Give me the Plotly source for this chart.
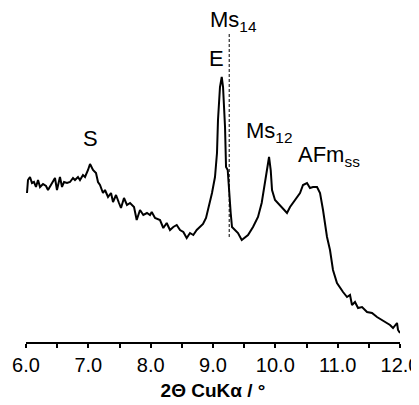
import plotly.graph_objects as go

two_theta = [6.016, 6.032, 6.064, 6.096, 6.128, 6.160, 6.193, 6.225, 6.273, 6.321, 6.353, 6.417, 6.465, 6.497,
             6.545, 6.578, 6.610, 6.658, 6.706, 6.754, 6.786, 6.834, 6.866, 6.914, 6.947, 6.995, 7.027, 7.075,
             7.123, 7.155, 7.187, 7.235, 7.267, 7.316, 7.364, 7.396, 7.444, 7.492, 7.524, 7.572, 7.620, 7.669,
             7.733, 7.776, 7.829, 7.882, 7.941, 7.989, 8.017, 8.070, 8.150, 8.203, 8.257, 8.310, 8.363, 8.418,
             8.471, 8.524, 8.578, 8.631, 8.684, 8.739, 8.792, 8.840, 8.888, 8.920, 8.952, 8.984, 9.032, 9.064,
             9.080, 9.112, 9.140, 9.161, 9.193, 9.209, 9.236, 9.257, 9.284, 9.305, 9.353, 9.401, 9.461, 9.514,
             9.562, 9.642, 9.722, 9.781, 9.834, 9.867, 9.899, 9.926, 9.947, 9.995, 10.043, 10.123, 10.187,
             10.236, 10.284, 10.348, 10.396, 10.444, 10.508, 10.556, 10.604, 10.669, 10.717, 10.765, 10.829,
             10.877, 10.925, 10.989, 11.038, 11.086, 11.150, 11.198, 11.230, 11.278, 11.327, 11.391, 11.471,
             11.551, 11.631, 11.712, 11.792, 11.840, 11.888, 11.952, 11.968, 12.000]
intensity = [149, 162, 165, 159, 160, 155, 162, 155, 158, 156, 152, 159, 164, 152,
             165, 155, 160, 159, 160, 164, 162, 165, 162, 167, 165, 172, 178, 172,
             169, 160, 157, 149, 152, 145, 149, 140, 147, 139, 134, 144, 137, 139,
             135, 122, 132, 127, 129, 127, 130, 124, 122, 114, 119, 112, 115, 117,
             112, 110, 104, 109, 107, 112, 115, 118, 124, 133, 139, 149, 165, 189,
             222, 255, 265, 255, 215, 175, 172, 149, 129, 115, 112, 109, 102, 105,
             107, 115, 125, 139, 159, 175, 185, 172, 152, 142, 139, 134, 129,
             135, 139, 144, 149, 157, 159, 154, 155, 155, 149, 132, 105,
             92, 72, 59, 54, 50, 45, 47, 37, 40, 34, 35, 30,
             29, 25, 22, 19, 17, 14, 19, 12, 9]

tick_vals = [6.0, 7.0, 8.0, 9.0, 10.0, 11.0, 12.0]
tick_text = ["6.0", "7.0", "8.0", "9.0", "10.0", "11.0", "12.0"]

ms14_pos = 9.26
ms14_span = [105, 310]

label_text = ["S", "E", "Ms<sub>14</sub>", "Ms<sub>12</sub>", "AFm<sub>ss</sub>"]
label_x = [7.04, 9.06, 9.33, 9.90, 10.86]
label_y = [204, 284, 321, 210, 186]

fig = go.Figure()
fig.add_trace(go.Scatter(x=two_theta, y=intensity, mode="lines",
                         line=dict(color="black", width=2), showlegend=False))

fig.add_shape(type="line", xref="x", yref="y", x0=ms14_pos, x1=ms14_pos,
              y0=ms14_span[0], y1=ms14_span[1],
              line=dict(color="black", width=1, dash="3px,2px"))

for t, x, y in zip(label_text, label_x, label_y):
    fig.add_annotation(x=x, y=y, text=t, showarrow=False, xanchor="center", yanchor="middle",
                       font=dict(family="Liberation Sans, Arial", size=22, color="black"))

# the page body adds an 8 px margin, so the figure is sized to fit the 419x405 window
fig.update_layout(
    width=411, height=397,
    margin=dict(l=18, r=19, t=2, b=63, autoexpand=False),
    paper_bgcolor="white", plot_bgcolor="white",
    font=dict(family="Liberation Sans, Arial", color="black"),
    xaxis=dict(range=[6.0, 12.0], showgrid=False, zeroline=False, automargin=False,
               showline=True, linecolor="black", linewidth=2,
               ticks="outside", ticklen=4, tickwidth=2, tickcolor="black",
               tickvals=tick_vals, ticktext=tick_text, ticklabeloverflow="allow",
               minor=dict(ticks="outside", ticklen=4, tickwidth=2, tickcolor="black",
                          dtick=0.5, tick0=6.0, showgrid=False),
               tickfont=dict(size=20),
               title=dict(text="<b>2Θ CuKα / °</b>", font=dict(size=19), standoff=9)),
    yaxis=dict(range=[0, 332], visible=False),
)

fig.write_html("out.html")
